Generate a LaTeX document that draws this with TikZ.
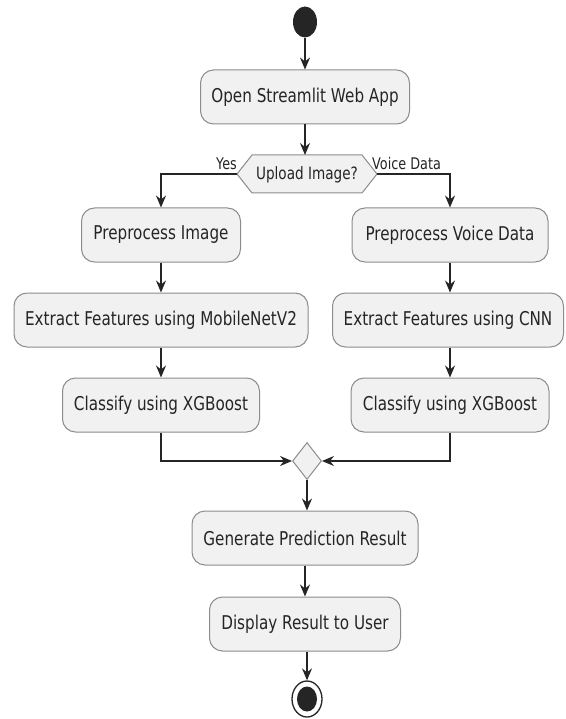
\documentclass[tikz,border=0pt]{standalone}
\usepackage{fontspec}
\newfontfamily\djv[FakeStretch=0.8]{DejaVu Sans}
\usetikzlibrary{shapes.geometric,arrows.meta}
\definecolor{boxfill}{HTML}{F1F1F1}
\definecolor{boxline}{HTML}{8C8C8C}
\definecolor{ink}{HTML}{252525}
\begin{document}
\begin{tikzpicture}[x=1pt,y=-1pt,
  act/.style={draw=boxline,line width=1pt,fill=boxfill,rounded corners=13pt,
     minimum height=54pt,inner sep=0pt,font=\djv\fontsize{19}{22}\selectfont,text=ink},
  lbl/.style={font=\djv\fontsize{16}{19}\selectfont,text=ink,inner sep=0pt},
  flow/.style={draw=ink,line width=1.3pt,-{Stealth[length=12pt,width=10pt,inset=4pt]}},
  wire/.style={draw=ink,line width=1.3pt}]
\useasboundingbox[fill=white] (0,0) rectangle (565,719);
% start
\node[ellipse,fill=ink,minimum width=24pt,minimum height=31pt,inner sep=0pt] (start) at (305,22) {};
\node[act,minimum width=209pt] (open) at (305,97) {Open Streamlit Web App};
% decision hexagon
\coordinate (hl) at (237,174);
\coordinate (hr) at (377,174);
\draw[draw=boxline,line width=1pt,fill=boxfill] (hl) -- (252,155) -- (362,155) -- (hr) -- (362,193) -- (252,193) -- cycle;
\node[font=\djv\fontsize{17}{20}\selectfont,text=ink,inner sep=0pt] (dec) at (307,175) {Upload Image?};
\coordinate (dectop) at (305,155);
\node[lbl,anchor=south east] (yes) at (237,170) {Yes};
\node[lbl,anchor=south west] (voice) at (372,170) {Voice Data};
% left branch
\node[act,minimum width=159pt] (pi) at (161,235) {Preprocess Image};
\node[act,minimum width=294pt] (em) at (161,320) {Extract Features using MobileNetV2};
\node[act,minimum width=197pt] (cl) at (161,405) {Classify using XGBoost};
% right branch
\node[act,minimum width=196pt] (pv) at (450,235) {Preprocess Voice Data};
\node[act,minimum width=231pt] (ec) at (448,320) {Extract Features using CNN};
\node[act,minimum width=198pt] (cr) at (450,405) {Classify using XGBoost};
% merge
\node[diamond,draw=boxline,line width=1pt,fill=boxfill,minimum width=29pt,minimum height=37pt,inner sep=0pt] (merge) at (307,461) {};
\node[act,minimum width=226pt] (gen) at (305,538) {Generate Prediction Result};
\node[act,minimum width=191pt] (disp) at (305,624) {Display Result to User};
% end
\node[ellipse,draw=ink,line width=1.3pt,fill=white,minimum width=30pt,minimum height=36pt,inner sep=0pt] (end) at (307,699) {};
\node[ellipse,fill=ink,minimum width=20pt,minimum height=25pt,inner sep=0pt] (endin) at (end.center) {};
% connectors
\draw[flow] (start) -- (open);
\draw[flow] (open) -- (dectop);
\draw[flow] (hl) -- (161,174) -- (pi.north);
\draw[flow] (hr) -- (450,174) -- (pv.north);
\draw[flow] (pi) -- (em);
\draw[flow] (em) -- (cl);
\draw[flow] (pv) -- (pv|-ec.north);
\draw[flow] (pv|-ec.south) -- (cr);
\draw[flow] (cl.south) -- (cl.south|-merge.west) -- (merge.west);
\draw[flow] (cr.south) -- (cr.south|-merge.east) -- (merge.east);
\draw[flow] (merge.south) -- (merge.south|-gen.north);
\draw[flow] (gen.south-|disp.north) -- (disp.north);
\draw[flow] (disp.south-|end.north) -- (end.north);
\end{tikzpicture}
\end{document}
